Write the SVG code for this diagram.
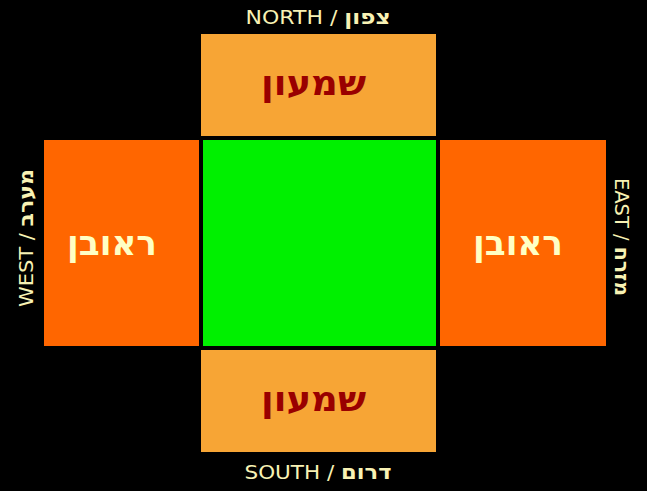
<svg xmlns="http://www.w3.org/2000/svg" width="647" height="491" viewBox="0 0 647 491">
<style>
.lbl{font-family:"DejaVu Sans","Liberation Sans",sans-serif;font-size:20px;fill:#F8F2B4;text-anchor:middle}
.heb{font-weight:bold;font-size:21px}
.dark{font-family:"DejaVu Sans","Liberation Sans",sans-serif;font-size:34px;font-weight:bold;fill:#990000;text-anchor:middle}
.light{font-family:"DejaVu Sans","Liberation Sans",sans-serif;font-size:34px;font-weight:bold;fill:#FFFFC4;text-anchor:middle}
.ns{fill:#F7A535}
.ew{fill:#FF6600}
</style>
<rect x="0" y="0" width="647" height="491" fill="#000000"/>
<g id="center"><rect x="203" y="140" width="233" height="206" fill="#00F000"/></g>
<g id="north"><rect class="ns" x="201" y="34" width="235" height="102"/><text class="dark" x="313.5" y="95" textLength="105" lengthAdjust="spacingAndGlyphs">שמעון</text></g>
<g id="south"><rect class="ns" x="201" y="350" width="235" height="102"/><text class="dark" x="313.5" y="411" textLength="105" lengthAdjust="spacingAndGlyphs">שמעון</text></g>
<g id="west"><rect class="ew" x="44" y="140" width="155" height="206"/><text class="light" x="112" y="255" textLength="90" lengthAdjust="spacingAndGlyphs">ראובן</text></g>
<g id="east"><rect class="ew" x="440" y="140" width="166" height="206"/><text class="light" x="518" y="255" textLength="90" lengthAdjust="spacingAndGlyphs">ראובן</text></g>
<g id="labels">
<text class="lbl" x="318" y="24" textLength="145" lengthAdjust="spacingAndGlyphs">NORTH / <tspan class="heb">צפון</tspan></text>
<text class="lbl" x="318" y="479" textLength="147" lengthAdjust="spacingAndGlyphs">SOUTH / <tspan class="heb">דרום</tspan></text>
<text class="lbl" transform="translate(33,238) rotate(-90)" textLength="138" lengthAdjust="spacingAndGlyphs">WEST / <tspan class="heb">מערב</tspan></text>
<text class="lbl" transform="translate(615,237) rotate(90)" textLength="118" lengthAdjust="spacingAndGlyphs">EAST / <tspan class="heb">מזרח</tspan></text>
</g>
<g id="connectors"/>
</svg>
